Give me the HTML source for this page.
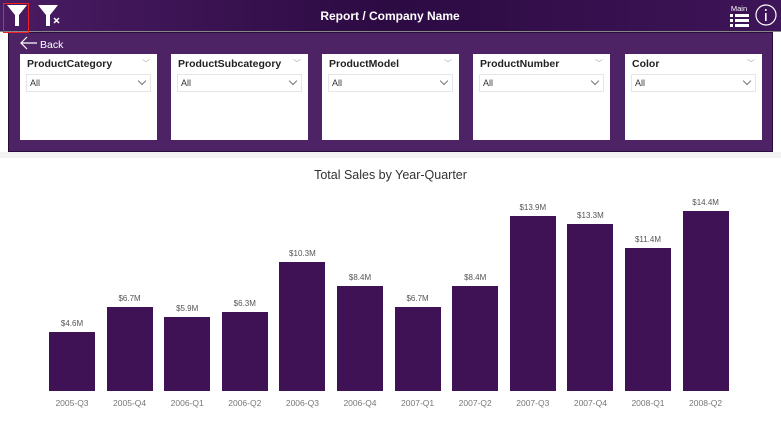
<!DOCTYPE html><html><head><style>
body{margin:0;width:781px;height:438px;position:relative;overflow:hidden;background:#fff;font-family:"Liberation Sans",sans-serif}
.hdr{position:absolute;left:0;top:0;width:781px;height:31px;background:linear-gradient(90deg,#4a1c63,#2c0a42 50%,#3e1558)}
.panel{position:absolute;left:8px;top:32px;width:765px;height:120px;background:#4d2366;border:1px solid #2a0c3c;box-sizing:border-box}
.sl{position:absolute;top:54px;width:137px;height:86px;background:#fff}
.sl b{position:absolute;left:7px;top:4px;font-size:10.5px;color:#222}
.sl .dd{position:absolute;left:6px;top:20px;right:6px;height:16px;border:1px solid #e6e6e6;font-size:9px;color:#333;line-height:16px;padding-left:3px}
.sl .dd:after{content:"";position:absolute;right:5px;top:3px;width:5px;height:5px;border-right:1px solid #777;border-bottom:1px solid #777;transform:rotate(45deg)}
.sl i{position:absolute;right:7px;top:4px;font-size:8px;color:#aaa;font-style:normal}
.bar{position:absolute;width:46px;background:#3e1254}
.v{position:absolute;width:60px;text-align:center;font-size:8px;color:#555}
.x{position:absolute;width:60px;text-align:center;font-size:8.5px;color:#777;top:398px}
</style></head><body>
<div class="hdr"></div>
<div style="position:absolute;left:0;top:31px;width:781px;height:1px;background:#888"></div>
<svg style="position:absolute;left:0;top:0" width="781" height="50">
<path d="M7 5h20l-8 10v11h-4v-11z" fill="#fff"/>
<path d="M38 5h20l-8 10v11h-4v-11z" fill="#fff"/>
<path d="M54 18l5 5M59 18l-5 5" stroke="#fff" stroke-width="1.5"/>
<circle cx="766" cy="15" r="10" fill="none" stroke="#fff" stroke-width="1.2"/>
<rect x="765" y="13" width="1.6" height="8" fill="#fff"/><circle cx="765.8" cy="10" r="1" fill="#fff"/>
<rect x="730" y="14" width="3" height="3" fill="#fff"/><rect x="735" y="14" width="14" height="3" fill="#fff"/>
<rect x="730" y="19" width="3" height="3" fill="#fff"/><rect x="735" y="19" width="14" height="3" fill="#fff"/>
<rect x="730" y="24" width="3" height="3" fill="#fff"/><rect x="735" y="24" width="14" height="3" fill="#fff"/>
<text x="739" y="11" font-size="7.5" fill="#fff" text-anchor="middle" font-family="Liberation Sans">Main</text>
<text x="390" y="20" font-size="12" font-weight="bold" fill="#fff" text-anchor="middle" font-family="Liberation Sans">Report / Company Name</text>
</svg>
<div class="panel"></div>
<div style="position:absolute;left:3px;top:3px;width:26px;height:30px;border:1px solid #e22;box-sizing:border-box;z-index:5"></div>
<svg style="position:absolute;left:0;top:33px" width="120" height="20"><path d="M22 10h15M27 4l-6 6 6 6" stroke="#fff" fill="none" stroke-width="1.2"/><text x="40" y="15" font-size="10.5" fill="#fff" font-family="Liberation Sans">Back</text></svg>
<div class="sl" style="left:20px"><b>ProductCategory</b><i>﹀</i><div class="dd">All</div></div>
<div class="sl" style="left:171px"><b>ProductSubcategory</b><i>﹀</i><div class="dd">All</div></div>
<div class="sl" style="left:322px"><b>ProductModel</b><i>﹀</i><div class="dd">All</div></div>
<div class="sl" style="left:473px"><b>ProductNumber</b><i>﹀</i><div class="dd">All</div></div>
<div class="sl" style="left:625px"><b>Color</b><i>﹀</i><div class="dd">All</div></div>
<div style="position:absolute;left:0;top:152px;width:781px;height:6px;background:#f3f3f3"></div>
<div style="position:absolute;left:0;top:168px;width:781px;text-align:center;font-size:12.5px;color:#333">Total Sales by Year-Quarter</div>
<div id="c"></div>
<script>
var d=[["2005-Q3","$4.6M",332],["2005-Q4","$6.7M",307],["2006-Q1","$5.9M",317],["2006-Q2","$6.3M",312],["2006-Q3","$10.3M",262],["2006-Q4","$8.4M",286],["2007-Q1","$6.7M",307],["2007-Q2","$8.4M",286],["2007-Q3","$13.9M",216],["2007-Q4","$13.3M",224],["2008-Q1","$11.4M",248],["2008-Q2","$14.4M",211]];
var h="";d.forEach(function(e,i){var cx=72+i*57.6;h+='<div class="bar" style="left:'+(cx-23)+'px;top:'+e[2]+'px;height:'+(391-e[2])+'px"></div><div class="v" style="left:'+(cx-30)+'px;top:'+(e[2]-13)+'px">'+e[1]+'</div><div class="x" style="left:'+(cx-30)+'px">'+e[0]+'</div>';});
document.getElementById("c").innerHTML=h;
</script>
</body></html>
